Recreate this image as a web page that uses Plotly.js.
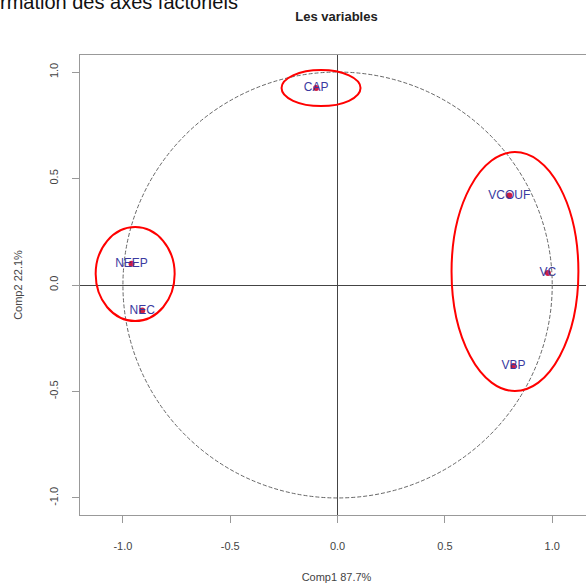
<!DOCTYPE html>
<html>
<head>
<meta charset="utf-8">
<script src="https://cdn.plot.ly/plotly-3.0.1.min.js"></script>
<style>
html,body{margin:0;padding:0;overflow:hidden;background:#fff;}
#chart{width:600px;height:586px;}
</style>
</head>
<body>
<div id="chart"></div>
<script>
// Variables (correlations with components)
const variables = ["CAP", "VCOUF", "VC", "VBP", "NEEP", "NEC"];
const comp1 = [-0.10, 0.80, 0.98, 0.82, -0.96, -0.91];
const comp2 = [0.925, 0.42, 0.056, -0.38, 0.10, -0.12];

// Highlight ellipses (groups) : [x0, x1, y0, y1]
const ellipseX0 = [-0.261, -1.127, 0.531];
const ellipseX1 = [0.107, -0.759, 1.122];
const ellipseY0 = [0.840, -0.169, -0.498];
const ellipseY1 = [1.009, 0.272, 0.624];

const tickVals = [-1.0, -0.5, 0.0, 0.5, 1.0];
const tickText = ["-1.0", "-0.5", "0.0", "0.5", "1.0"];

const shapes = [
  {type: "circle", xref: "x", yref: "y", x0: -1, x1: 1, y0: -1, y1: 1,
   line: {color: "#666", width: 1, dash: "4px,2px"}}
];
for (let i = 0; i < ellipseX0.length; i++) {
  shapes.push({type: "circle", xref: "x", yref: "y",
    x0: ellipseX0[i], x1: ellipseX1[i], y0: ellipseY0[i], y1: ellipseY1[i],
    line: {color: "#ff0000", width: 2}});
}

const trace = {
  type: "scatter",
  mode: "markers+text",
  x: comp1,
  y: comp2,
  text: variables,
  textposition: "middle center",
  textfont: {family: "Liberation Sans, Arial, sans-serif", size: 12, color: "#3a3aa0"},
  marker: {color: "#cc1f44", size: 6, symbol: "circle"},
  hoverinfo: "none",
  cliponaxis: false
};

const axisCommon = {
  showgrid: false,
  zeroline: true,
  zerolinecolor: "#444",
  zerolinewidth: 1,
  showline: true,
  mirror: true,
  linecolor: "#999",
  linewidth: 1,
  ticks: "outside",
  ticklen: 7,
  tickcolor: "#999",
  tickmode: "array",
  tickvals: tickVals,
  ticktext: tickText,
  automargin: false,
  tickfont: {family: "Liberation Sans, Arial, sans-serif", size: 11, color: "#444"}
};

const layout = {
  width: 600,
  height: 586,
  margin: {l: 80, r: 7, t: 55, b: 71},
  paper_bgcolor: "#fff",
  plot_bgcolor: "#fff",
  showlegend: false,
  title: {
    text: "<b>Les variables</b>",
    font: {family: "Liberation Sans, Arial, sans-serif", size: 13, color: "#222"},
    x: 0.5, xref: "paper", xanchor: "center",
    y: 1, yref: "container", yanchor: "top", pad: {t: 12}
  },
  xaxis: Object.assign({}, axisCommon, {
    range: [-1.2, 1.19],
    ticklabelstandoff: 14,
    title: {text: "Comp1 87.7%", standoff: 22,
            font: {family: "Liberation Sans, Arial, sans-serif", size: 11, color: "#444"}}
  }),
  yaxis: Object.assign({}, axisCommon, {
    range: [-1.08, 1.08],
    tickangle: -90,
    ticklabelstandoff: 10,
    title: {text: "Comp2 22.1%", standoff: 22,
            font: {family: "Liberation Sans, Arial, sans-serif", size: 11, color: "#444"}}
  }),
  shapes: shapes,
  annotations: [
    {text: "rmation des axes factoriels", xref: "paper", yref: "paper",
     x: 0, y: 1, xanchor: "left", yanchor: "bottom", xshift: -82, yshift: 40,
     showarrow: false,
     font: {family: "Liberation Sans, Arial, sans-serif", size: 20, color: "#111"}}
  ]
};

Plotly.newPlot("chart", [trace], layout, {displayModeBar: false, staticPlot: true});
</script>
</body>
</html>
